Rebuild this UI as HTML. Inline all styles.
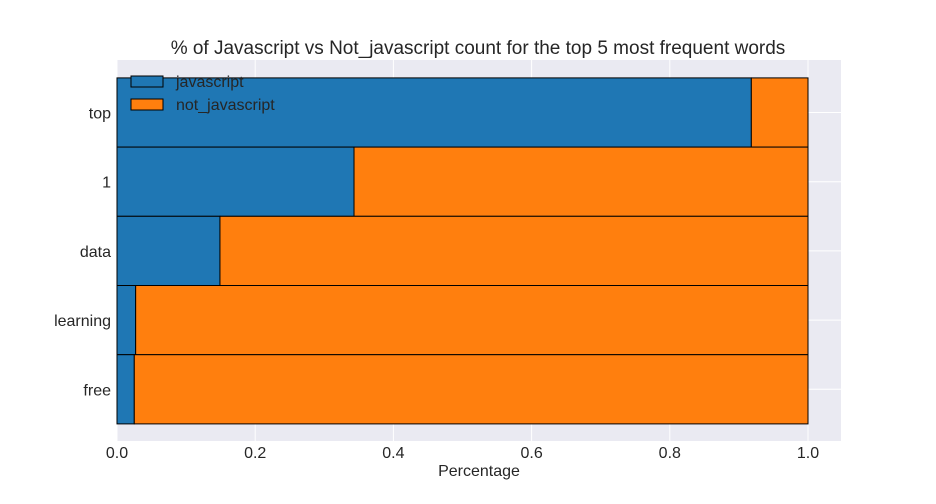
<!DOCTYPE html>
<html><head><meta charset="utf-8"><style>
body{margin:0;background:#fff}
svg{display:block;font-family:"Liberation Sans","DejaVu Sans",sans-serif}
</style></head><body>
<svg id="chart" width="936" height="504">
<rect x="117" y="60" width="724" height="381" fill="#eaeaf2"/>
<g id="grid"></g><g id="bars"></g><g id="axes"></g>
<text x="478" y="54" font-size="19" fill="#262626" text-anchor="middle">% of Javascript vs Not_javascript count for the top 5 most frequent words</text>
<text x="479" y="476" font-size="16" fill="#262626" text-anchor="middle">Percentage</text>
<g>
<rect x="131" y="76" width="32" height="11" fill="#1f77b4" stroke="#000" stroke-width="1"/>
<text x="176" y="87" font-size="16" fill="#262626">javascript</text>
<rect x="131" y="99" width="32" height="11" fill="#ff7f0e" stroke="#000" stroke-width="1"/>
<text x="176" y="110" font-size="16" fill="#262626">not_javascript</text>
</g>
</svg>
<script>
const categories=["top","1","data","learning","free"];
const jsShare=[0.918,0.343,0.149,0.027,0.025];
const xTicks=[0,0.2,0.4,0.6,0.8,1.0];
const xTickLabels=["0.0","0.2","0.4","0.6","0.8","1.0"];
const NS="http://www.w3.org/2000/svg";
const X=v=>117+v*691;
const Y=i=>112.5+i*69.2;
const bh=69.2;
function mk(tag,attrs,parent){const e=document.createElementNS(NS,tag);for(const k in attrs)e.setAttribute(k,attrs[k]);parent.appendChild(e);return e;}
const grid=document.getElementById('grid'),bars=document.getElementById('bars'),axes=document.getElementById('axes');
xTicks.forEach((t,i)=>{
 const l=mk('line',{x1:X(t),x2:X(t),y1:60,y2:441,stroke:'#fff','stroke-width':1},grid);
 
 
 const tx=mk('text',{x:X(t),y:458,'font-size':16,fill:'#262626','text-anchor':'middle'},axes);
 tx.textContent=xTickLabels[i];
 
 
});
categories.forEach((c,i)=>{
 const l=mk('line',{x1:117,x2:841,y1:Y(i),y2:Y(i),stroke:'#fff','stroke-width':1},grid);
 
 
 const top=Y(i)-bh/2;
 const a=mk('rect',{x:X(0),y:top,width:X(jsShare[i])-X(0),height:bh,fill:'#1f77b4',stroke:'#000','stroke-width':1},bars);
 
 
 const b=mk('rect',{x:X(jsShare[i]),y:top,width:X(1)-X(jsShare[i]),height:bh,fill:'#ff7f0e',stroke:'#000','stroke-width':1},bars);
 
 
 const t=mk('text',{x:111,y:Y(i)+6,'font-size':16,fill:'#262626','text-anchor':'end'},axes);
 t.textContent=c;
 
 
});
</script>
</body></html>
